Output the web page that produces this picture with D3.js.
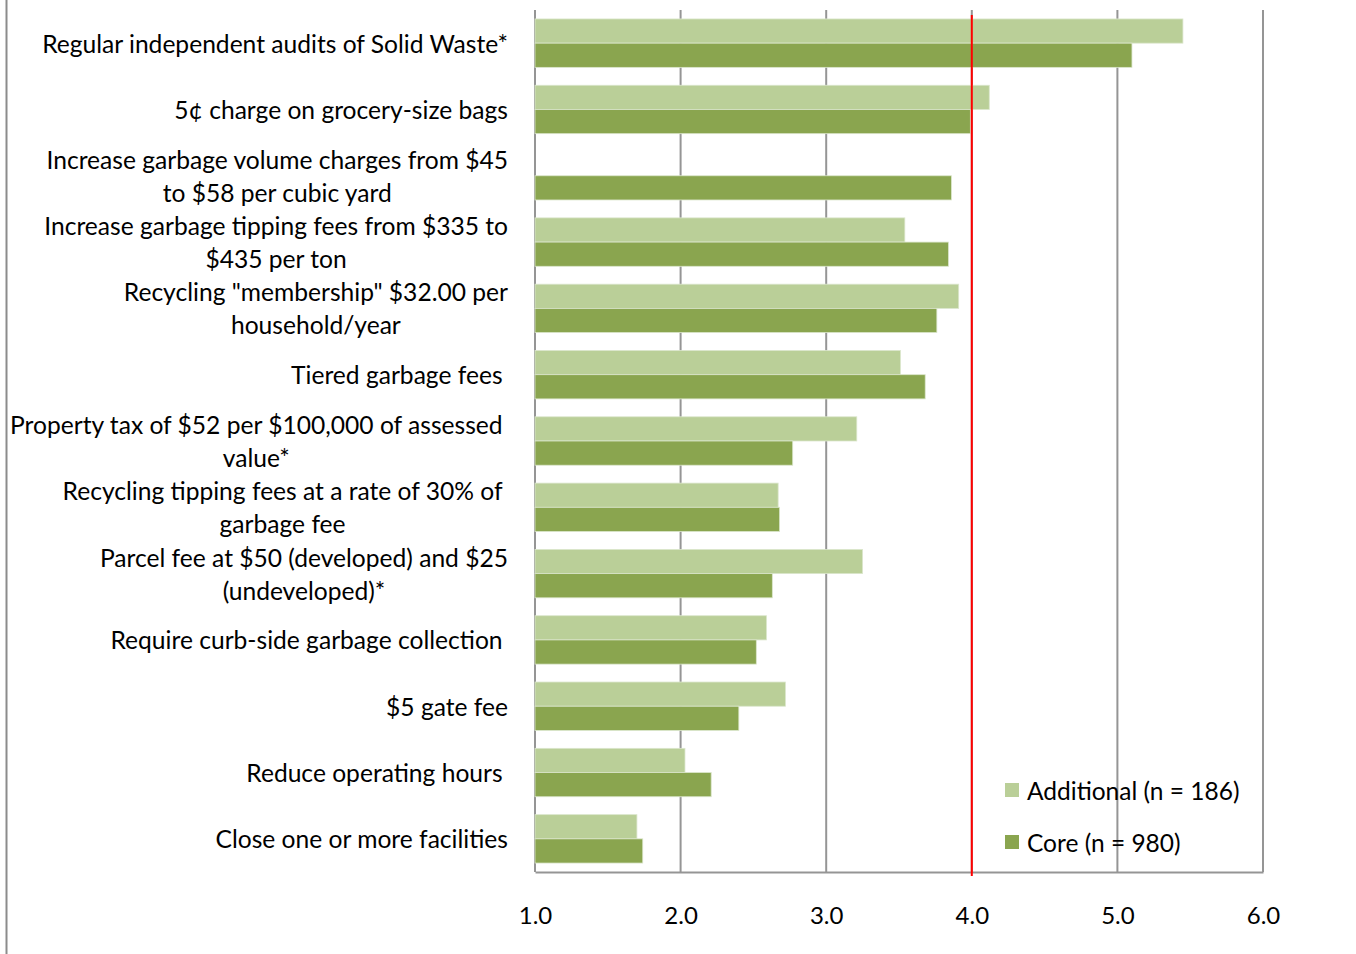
<!DOCTYPE html>
<html>
<head>
<meta charset="utf-8">
<script src="https://cdn.jsdelivr.net/npm/d3@7"></script>
<style>
  html, body { margin: 0; padding: 0; background: #ffffff; }
  svg { display: block; }
  text { font-family: Lato, "Open Sans", sans-serif; fill: #000; white-space: pre; }
</style>
</head>
<body>
<svg id="chart" width="1356" height="954"></svg>
<script>
// Policy options, top to bottom; "\n" marks a line break in the label
const categories = [
  "Regular independent audits of Solid Waste*",
  "5¢ charge on grocery-size bags",
  "Increase garbage volume charges from $45\nto $58 per cubic yard",
  "Increase garbage tipping fees from $335 to\n$435 per ton",
  "Recycling \"membership\" $32.00 per\nhousehold/year",
  "Tiered garbage fees ",
  "Property tax of $52 per $100,000 of assessed\nvalue* ",
  "Recycling tipping fees at a rate of 30% of\ngarbage fee ",
  "Parcel fee at $50 (developed) and $25\n(undeveloped)*",
  "Require curb-side garbage collection ",
  "$5 gate fee",
  "Reduce operating hours ",
  "Close one or more facilities"
];

// Mean ratings per respondent group (null = not asked)
const additionalValues = [5.45, 4.12, null, 3.54, 3.91, 3.51, 3.21, 2.67, 3.25, 2.59, 2.72, 2.03, 1.70];
const coreValues       = [5.10, 3.99, 3.86, 3.84, 3.76, 3.68, 2.77, 2.68, 2.63, 2.52, 2.40, 2.21, 1.74];

const seriesNames = ["Additional (n = 186)", "Core (n = 980)"];
const seriesColors = ["#bacf98", "#8aa54f"];

const tickValues = [1, 2, 3, 4, 5, 6];
const referenceValue = 4.0;

const svg = d3.select("#chart");

const plot = { left: 535, right: 1263, top: 10, bottom: 872 };

const x = d3.scaleLinear().domain([1, 6]).range([plot.left, plot.right]);
const y = d3.scaleBand()
  .domain(categories)
  .range([plot.top, plot.bottom])
  .paddingInner(0.27)
  .paddingOuter(0.135);
const ySub = d3.scaleBand()
  .domain([0, 1])
  .range([0, y.bandwidth()]);

// Outer chart border (only the left edge falls inside the frame)
svg.append("line")
  .attr("x1", 6.5).attr("x2", 6.5)
  .attr("y1", 0).attr("y2", 954)
  .attr("stroke", "#8c8c8c").attr("stroke-width", 2);

// Vertical gridlines
svg.append("g")
  .selectAll("line")
  .data(tickValues)
  .join("line")
  .attr("x1", d => x(d)).attr("x2", d => x(d))
  .attr("y1", plot.top).attr("y2", plot.bottom)
  .attr("stroke", "#959595").attr("stroke-width", 2);

// Bottom axis line and labels
const xAxis = d3.axisBottom(x)
  .tickValues(tickValues)
  .tickFormat(d3.format(".1f"))
  .tickSize(0)
  .tickPadding(35);
const axisG = svg.append("g")
  .attr("transform", `translate(0,${plot.bottom})`)
  .call(xAxis);
axisG.select(".domain").attr("stroke", "#959595").attr("stroke-width", 2);
axisG.selectAll(".tick text")
  .attr("font-size", 24)
  .attr("font-family", "Lato, 'Open Sans', sans-serif")
  .attr("fill", "#000");

// Bars
const rows = categories.map((c, i) => ({
  cat: c,
  values: [additionalValues[i], coreValues[i]]
}));

const groups = svg.append("g")
  .selectAll("g")
  .data(rows)
  .join("g")
  .attr("transform", d => `translate(0,${y(d.cat)})`);

groups.selectAll("rect")
  .data(d => d.values.map((v, s) => ({ v, s })).filter(e => e.v != null))
  .join("rect")
  .attr("x", x(1))
  .attr("y", d => ySub(d.s))
  .attr("width", d => x(d.v) - x(1))
  .attr("height", ySub.bandwidth())
  .attr("fill", d => seriesColors[d.s])
  .attr("stroke", "#dbe6cc")
  .attr("stroke-width", 0.8);

// Reference line at the scale midpoint
svg.append("line")
  .attr("x1", x(referenceValue)).attr("x2", x(referenceValue))
  .attr("y1", 15).attr("y2", 876)
  .attr("stroke", "#ff0000").attr("stroke-width", 2);

// Category labels: wrapped lines centred within a right-aligned block
const labelRight = 508;
const labelSize = 24.6;
const lineGap = 33;
const labelG = svg.append("g");

categories.forEach(cat => {
  const lines = cat.split("\n");
  const trailing = /\s$/.test(cat);
  const cy = y(cat) + y.bandwidth() / 2;
  const texts = lines.map((ln, i) =>
    labelG.append("text")
      .attr("font-size", labelSize)
      .attr("dominant-baseline", "central")
      .attr("y", cy + (i - (lines.length - 1) / 2) * lineGap)
      .text(ln.trimEnd())
  );
  const widths = texts.map(t => t.node().getComputedTextLength());
  const blockW = d3.max(widths);
  const right = labelRight - (trailing ? labelSize * 0.22 : 0);
  const center = right - blockW / 2;
  texts.forEach((t, i) => t.attr("x", center - widths[i] / 2));
});

// Legend
const legend = svg.append("g");
seriesNames.forEach((name, i) => {
  const ly = 790 + i * 52;
  legend.append("rect")
    .attr("x", 1005).attr("y", ly - 7)
    .attr("width", 14).attr("height", 14)
    .attr("fill", seriesColors[i]);
  legend.append("text")
    .attr("x", 1027).attr("y", ly)
    .attr("dominant-baseline", "central")
    .attr("font-size", 24.5)
    .text(name);
});
</script>
</body>
</html>
